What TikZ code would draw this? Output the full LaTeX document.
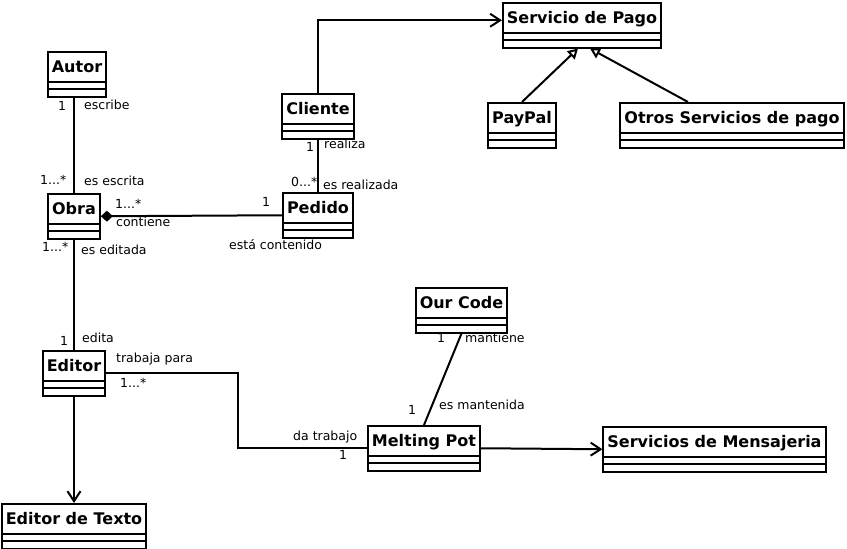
\documentclass[tikz,border=0pt]{standalone}
\usepackage{fontspec}
\setmainfont{DejaVu Sans}
\usetikzlibrary{arrows.meta,shapes.multipart}
\colorlet{Trazo}{black}
\newcommand{\nombre}[1]{\rule[-7pt]{0pt}{25.5pt}#1%
  \nodepart{two}\rule{0pt}{3.5pt}\kern0.2pt\nodepart{three}\rule{0pt}{3.5pt}\kern0.2pt}
\newcommand{\unovarios}{1...*}
\newcommand{\cerovarios}{0...*}

\begin{document}
\begin{tikzpicture}[x=1pt,y=-1pt,
    clase/.style={rectangle split,rectangle split parts=3,draw=Trazo,line width=2pt,
      inner xsep=4pt,inner ysep=1pt,font=\fontsize{16}{19}\selectfont\bfseries,anchor=north},
    etiq/.style={font=\fontsize{12.5}{15}\selectfont,inner sep=0pt,anchor=west},
    enlace/.style={draw=Trazo,line width=2pt},
    flecha/.style={enlace,-{Straight Barb[length=10pt,width=13pt]}},
    hereda/.style={enlace,-{Triangle[open,length=10pt,width=11pt]}},
    compone/.style={enlace,{Diamond[length=12pt,width=11pt]}-}]
  \useasboundingbox (0,0) rectangle (847,549);
  % clases
  \node[clase] (servicio) at (582,2) {\nombre{Servicio de Pago}};
  \node[clase] (autor) at (77,51) {\nombre{Autor}};
  \node[clase] (cliente) at (318,93) {\nombre{Cliente}};
  \node[clase] (paypal) at (522,102) {\nombre{PayPal}};
  \node[clase] (otros) at (732,102) {\nombre{Otros Servicios de pago}};
  \node[clase] (obra) at (74,193) {\nombre{Obra}};
  \node[clase] (pedido) at (318,192) {\nombre{Pedido}};
  \node[clase] (ourcode) at (461.5,287) {\nombre{Our Code}};
  \node[clase] (editor) at (74,350) {\nombre{Editor}};
  \node[clase] (melting) at (424,425) {\nombre{Melting Pot}};
  \node[clase] (mensajeria) at (714.5,426) {\nombre{Servicios de Mensajeria}};
  \node[clase] (editortexto) at (74,503) {\nombre{Editor de Texto}};
  \coordinate (codo) at (238,410);

  % relaciones
  \draw[flecha] (cliente.north) |- ([yshift=5pt]servicio.west);
  \draw[hereda] (paypal.north) -- ([xshift=-4pt]servicio.south);
  \draw[hereda] ([xshift=-44pt]otros.north) -- ([xshift=8pt]servicio.south);
  \draw[enlace] (obra.north) -- (obra.north |- autor.south);
  \draw[compone] (obra.east) -- (pedido.west);
  \draw[enlace] (cliente.south) -- (pedido.north);
  \draw[enlace] (obra.south) -- (editor.north);
  \draw[enlace] (editor.east) -| (codo) |- (melting.west);
  \draw[flecha] (editor.south) -- (editortexto.north);
  \draw[enlace] (ourcode.south) -- (melting.north);
  \draw[flecha] (melting.east) -- (mensajeria.west);

  % multiplicidades y roles
  \foreach \x/\y/\t [count=\i] in {58/106/1, 84/105/escribe, 40/180/\unovarios, 84/181/es escrita,
      115/204/\unovarios, 116/222/contiene, 262/202/1, 229/245/está contenido,
      306/147/1, 324/144/realiza, 291/182/\cerovarios, 323/185/es realizada,
      42/247/\unovarios, 81/250/es editada, 60/341/1, 82/338/edita,
      116/359/trabaja para, 120/383/\unovarios, 293/437/da trabajo, 339/455/1,
      437/338/1, 465/338/mantiene, 408/410/1, 439/405/es mantenida}
    \node[etiq] (rol\i) at (\x,\y) {\t};
\end{tikzpicture}
\end{document}
